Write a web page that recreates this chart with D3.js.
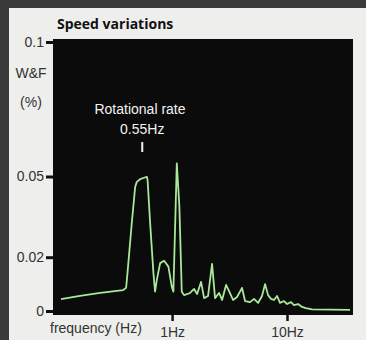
<!DOCTYPE html>
<html>
<head>
<meta charset="utf-8">
<script src="https://cdn.jsdelivr.net/npm/d3@7"></script>
<style>
  body { margin: 0; background: #3a3a3a; }
</style>
</head>
<body>
<div id="chart"></div>
<script>
// trace (frequency in Hz, W&F in %)
const freqHz = [0.108, 0.158, 0.237, 0.375, 0.398, 0.409, 0.446, 0.477, 0.493, 0.527, 0.603, 0.612,
  0.644, 0.688, 0.711, 0.736, 0.787, 0.852, 0.929, 0.994, 1.026, 1.099, 1.157, 1.214, 1.271,
  1.434, 1.553, 1.65, 1.787, 1.898, 2.056, 2.227, 2.365, 2.563, 2.722, 2.949, 3.131, 3.392,
  3.674, 4.062, 4.313, 4.767, 5.164, 5.594, 6.06, 6.44, 6.84, 7.26, 7.71, 8.18, 8.69, 9.42,
  10.0, 10.83, 11.5, 12.47, 13.5, 14.6, 16.5, 35.3];
const wfPct = [0.0044, 0.0056, 0.0067, 0.0078, 0.0086, 0.0141, 0.0327, 0.0461, 0.048, 0.049, 0.0499, 0.0487,
  0.0327, 0.0141, 0.0072, 0.0115, 0.0178, 0.0187, 0.0165, 0.009, 0.0072, 0.0549, 0.0388, 0.0072, 0.0059,
  0.0067, 0.0082, 0.0063, 0.0108, 0.0048, 0.0056, 0.0175, 0.0048, 0.0067, 0.0041, 0.0097, 0.0074, 0.0041,
  0.0052, 0.0086, 0.0037, 0.0033, 0.0045, 0.003, 0.0056, 0.01, 0.0059, 0.0045, 0.0041, 0.0056, 0.003, 0.0037,
  0.0026, 0.0033, 0.0022, 0.0026, 0.0015, 0.0011, 0.0006, 0.0004];

const yTicks = [0, 0.02, 0.05, 0.1];
const yTickLabels = ["0", "0.02", "0.05", "0.1"];
const xTicks = [1, 10];
const xTickLabels = ["1Hz", "10Hz"];

const W = 366, H = 340;
const svg = d3.select("#chart").append("svg")
  .attr("width", W).attr("height", H);

// photo background and the page card
svg.append("rect").attr("width", W).attr("height", H).attr("fill", "#3a3a3a");
svg.append("rect").attr("x", 9).attr("y", 8).attr("width", W - 9).attr("height", H - 8)
  .attr("fill", "#eeeeec");

// scales
const x = d3.scaleLog().domain([0.092, 37.5]).range([53, 353]);
const y = d3.scaleLinear().domain([0, 0.1]).range([311, 42]);

// black plot panel
svg.append("rect")
  .attr("x", x.range()[0]).attr("y", 39)
  .attr("width", x.range()[1] - x.range()[0]).attr("height", 315 - 39)
  .attr("fill", "#0b0b0b");

// title
svg.append("text")
  .attr("x", 57).attr("y", 29)
  .style("font-family", "'Open Sans', sans-serif")
  .style("font-weight", "bold")
  .style("font-size", "14px")
  .attr("fill", "#111")
  .text("Speed variations");

// Y axis
const yAxis = svg.append("g")
  .attr("transform", "translate(" + x.range()[0] + ",0)")
  .call(d3.axisLeft(y).tickValues(yTicks).tickSize(7).tickPadding(2)
    .tickFormat((d, i) => yTickLabels[i]));
yAxis.select(".domain").remove();
yAxis.selectAll("line").attr("stroke", "#111").attr("stroke-width", 3);
yAxis.selectAll("text")
  .style("font-family", "'Liberation Sans', Arial, sans-serif")
  .style("font-size", "14px")
  .attr("fill", "#333");

// y axis label
svg.append("text").attr("x", 31).attr("y", 78).attr("text-anchor", "middle")
  .style("font-family", "'Liberation Sans', Arial, sans-serif").style("font-size", "14px")
  .attr("fill", "#333").text("W&F");
svg.append("text").attr("x", 31).attr("y", 107).attr("text-anchor", "middle")
  .style("font-family", "'Liberation Sans', Arial, sans-serif").style("font-size", "14px")
  .attr("fill", "#333").text("(%)");

// X axis
const xAxis = svg.append("g")
  .attr("transform", "translate(0,315)")
  .call(d3.axisBottom(x).tickValues(xTicks).tickSize(6).tickPadding(6)
    .tickFormat((d, i) => xTickLabels[i]));
xAxis.select(".domain").remove();
xAxis.selectAll("line").attr("stroke", "#111").attr("stroke-width", 2.5);
xAxis.selectAll("text")
  .style("font-family", "'Liberation Sans', Arial, sans-serif")
  .style("font-size", "14px")
  .attr("fill", "#333");

// x axis label
svg.append("text").attr("x", 50).attr("y", 333)
  .style("font-family", "'Liberation Sans', Arial, sans-serif").style("font-size", "14px")
  .attr("fill", "#333").text("frequency (Hz)");

// spectrum trace
const pts = freqHz.map((f, i) => [f, wfPct[i]]);
svg.append("path")
  .datum(pts)
  .attr("fill", "none")
  .attr("stroke", "#a9e79b")
  .attr("stroke-width", 1.8)
  .attr("stroke-linejoin", "round")
  .attr("d", d3.line().x(d => x(d[0])).y(d => y(d[1])));

// rotational rate annotation
svg.append("text").attr("x", 140).attr("y", 114).attr("text-anchor", "middle")
  .style("font-family", "'Liberation Sans', Arial, sans-serif").style("font-size", "14px")
  .attr("fill", "#f2f2f2").text("Rotational rate");
svg.append("text").attr("x", x(0.55)).attr("y", 134).attr("text-anchor", "middle")
  .style("font-family", "'Liberation Sans', Arial, sans-serif").style("font-size", "14px")
  .attr("fill", "#f2f2f2").text("0.55Hz");
svg.append("line")
  .attr("x1", x(0.55)).attr("x2", x(0.55)).attr("y1", 142).attr("y2", 152)
  .attr("stroke", "#f2f2f2").attr("stroke-width", 2);
</script>
</body>
</html>
